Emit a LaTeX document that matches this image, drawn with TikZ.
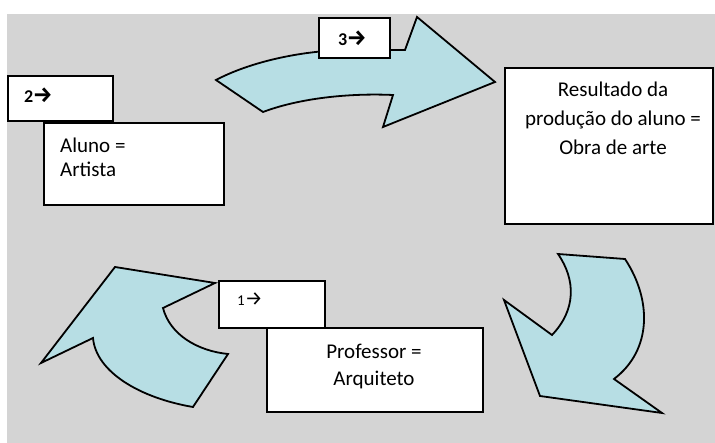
\documentclass[tikz,border=0pt]{standalone}
\usepackage{fontspec}
\setmainfont{Carlito}
\newfontfamily\arrowfont{Fira Sans}
\definecolor{bggray}{RGB}{212,212,212}
\definecolor{aqua}{RGB}{183,222,228}
\begin{document}
\begin{tikzpicture}[x=1pt,y=-1pt,
  box/.style={draw=black,fill=white,line width=1.8pt,inner sep=0pt,anchor=north west},
  bigarrow/.style={draw=black,fill=aqua,line width=1.8pt,line join=miter},
  maintext/.style={font=\fontsize{21}{25}\selectfont,inner sep=0pt,anchor=base west},
  ctext/.style={font=\fontsize{21}{25}\selectfont,inner sep=0pt,anchor=base},
  numtext/.style={font=\fontsize{18}{20}\selectfont\bfseries,inner sep=0pt,anchor=base west},
  numtextlight/.style={font=\fontsize{15}{17}\selectfont,inner sep=0pt,anchor=base west}]
\useasboundingbox (0,0) rectangle (715,443);
\fill[white] (0,0) rectangle (715,443);
\fill[bggray] (7,14) rectangle (715,443);

% arrows
\draw[bigarrow] (216,80) .. controls (250,62) and (300,51) .. (345,50) -- (405,50) -- (417,17) -- (495,82) -- (383,127) -- (393,95)
  .. controls (350,93) and (300,98) .. (263,112) -- cycle;
\draw[bigarrow] (115,267) -- (215,283) -- (163,308) .. controls (170,335) and (198,351) .. (228,354) -- (193,407)
  .. controls (140,398) and (96,372) .. (93,338) -- (41,363) -- cycle;
\draw[bigarrow] (558,254) -- (625,259) .. controls (652,300) and (652,350) .. (614,379) -- (662,413) -- (540,396) -- (504,300) -- (552,335)
  .. controls (576,310) and (576,280) .. (558,254) -- cycle;

% boxes
\node[box,minimum width=105pt,minimum height=45pt] (b2) at (7,75) {};
\node[box,minimum width=180pt,minimum height=82pt] (aluno) at (43,122) {};
\node[box,minimum width=71pt,minimum height=40pt] (b3) at (318,17) {};
\node[box,minimum width=208pt,minimum height=156pt] (result) at (504,67) {};
\node[box,minimum width=106pt,minimum height=47pt] (b1) at (218,280) {};
\node[box,minimum width=216pt,minimum height=84pt] (prof) at (266,327) {};

% texts
\node[numtext] (t2) at (24,103) {2\kern-0.5pt{\arrowfont\fontsize{22}{22}\selectfont\bfseries →}};
\node[numtext] (t3) at (338,46) {3\kern-0.5pt{\arrowfont\fontsize{22}{22}\selectfont\bfseries →}};
\node[numtextlight] (t1) at (237,306) {1{\arrowfont\fontsize{20}{20}\selectfont →}};
\node[maintext] (al1) at (60,153) {Aluno =};
\node[maintext] (al2) at (60,177) {Artista};
\node[ctext] (r1) at (613,97) {Resultado da};
\node[ctext] (r2) at (613,126) {produção do aluno =};
\node[ctext] (r3) at (613,155) {Obra de arte};
\node[ctext] (p1) at (374,359) {Professor =};
\node[ctext] (p2) at (374,386) {Arquiteto};
\end{tikzpicture}
\end{document}
